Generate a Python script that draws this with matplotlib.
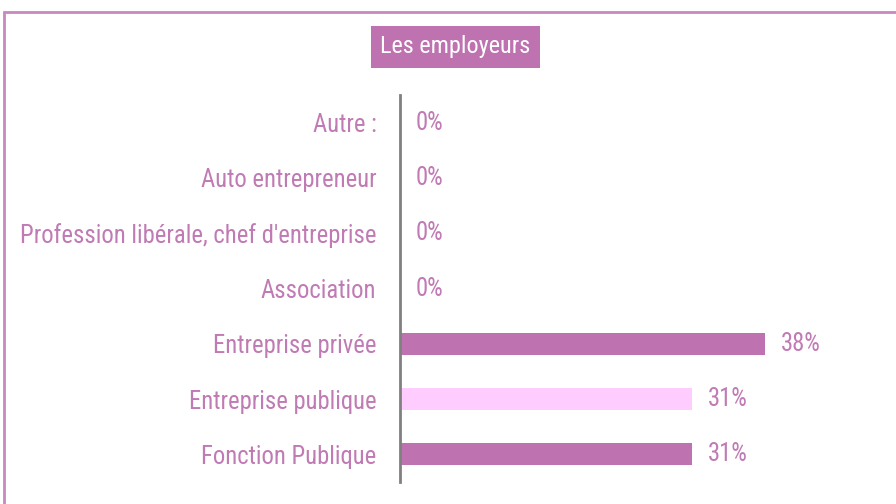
import matplotlib.pyplot as plt
from matplotlib.patches import Rectangle

categories = ["Fonction Publique", "Entreprise publique", "Entreprise privée",
              "Association", "Profession libérale, chef d'entreprise",
              "Auto entrepreneur", "Autre :"]
values = [30.77, 30.77, 38.46, 0, 0, 0, 0]
bar_colors = ["#be72b0", "#ffccff", "#be72b0", "#be72b0", "#be72b0", "#be72b0", "#be72b0"]

text_col = "#c07ab4"
plt.rcParams['font.family'] = ['Roboto Condensed', 'Liberation Sans', 'DejaVu Sans']

fig = plt.figure(figsize=(8.96, 5.04), dpi=100)
W, H = 896, 504

# outer frame (only top and left edges visible)
fig.add_artist(Rectangle((3.5 / W, -0.1), 1.2, (504 - 11.5) / H + 0.1,
                         transform=fig.transFigure, fill=False,
                         edgecolor="#c888bf", lw=2))

ax = fig.add_axes([400 / W, (504 - 482) / H, 480 / W, (482 - 95) / H])
y = range(len(categories))
ax.barh(y, values, height=0.4, color=bar_colors)
ax.set_xlim(0, 480 * 38.46 / 365)
ax.set_ylim(-0.5, len(categories) - 0.5)

for s in ["top", "right", "bottom"]:
    ax.spines[s].set_visible(False)
ax.spines["left"].set_color("#808080")
ax.spines["left"].set_linewidth(2)
ax.set_xticks([])
ax.set_yticks(list(y))
ax.set_yticklabels(categories, fontsize=17.7, color=text_col)
ax.tick_params(axis="y", length=0, pad=17)

for i, v in enumerate(values):
    ax.annotate(f"{v:.0f}%", (v, i), xytext=(11.5, 0), textcoords="offset points",
                va="center", ha="left", fontsize=17.7, color=text_col)

fig.text(455.5 / W, 1 - 47 / H, "Les employeurs", color="white", fontsize=17.5,
         ha="center", va="center",
         bbox=dict(boxstyle="square,pad=0.38", facecolor="#be72b0", edgecolor="none"))

fig.savefig("out.png", dpi=100)
